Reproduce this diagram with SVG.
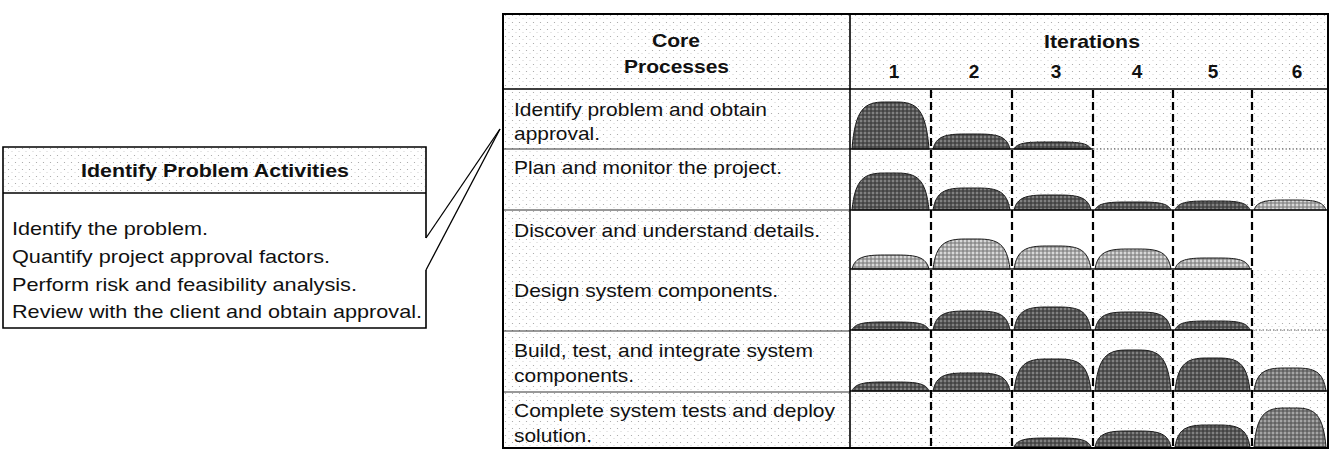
<svg xmlns="http://www.w3.org/2000/svg" width="1335" height="450" viewBox="0 0 1335 450">
  <defs>
    <!-- light printed tint used as cell background -->
    <pattern id="tint" width="7" height="7" patternUnits="userSpaceOnUse">
      <rect width="7" height="7" fill="#ffffff"/>
      <circle cx="1.5" cy="1.5" r="0.6" fill="#a0a0a0"/>
      <circle cx="5" cy="4.6" r="0.5" fill="#c0c0c0"/>
    </pattern>
    <!-- halftone screens for the effort humps -->
    <pattern id="screenDark" width="4" height="4" patternUnits="userSpaceOnUse">
      <rect width="4" height="4" fill="#555555"/>
      <circle cx="1" cy="1" r="0.7" fill="#d0d0d0"/>
      <rect x="2.5" y="2.5" width="1" height="1" fill="#111111"/>
    </pattern>
    <pattern id="screenMid" width="4" height="4" patternUnits="userSpaceOnUse">
      <rect width="4" height="4" fill="#777777"/>
      <circle cx="1" cy="1" r="0.8" fill="#e0e0e0"/>
      <rect x="2.5" y="2.5" width="1" height="1" fill="#222222"/>
    </pattern>
    <pattern id="screenLight" width="4" height="4" patternUnits="userSpaceOnUse">
      <rect width="4" height="4" fill="#a5a5a5"/>
      <circle cx="1" cy="1" r="0.9" fill="#f0f0f0"/>
      <rect x="2.5" y="2.5" width="1" height="1" fill="#444444"/>
    </pattern>
    <style>
      .lbl { font-family: "Liberation Sans", Arial, Helvetica, sans-serif; font-size: 19px; fill: #111; }
      .bold { font-weight: bold; }
      .frame { fill: none; stroke: #000; stroke-width: 2; }
      .rule { stroke: #000; stroke-width: 1.6; fill: none; }
      .thin { stroke: #333; stroke-width: 1; fill: none; }
      .dotted { stroke: #555; stroke-width: 1; stroke-dasharray: 1.5 2; fill: none; }
      .iter { stroke: #000; stroke-width: 2.2; stroke-dasharray: 8 4; fill: none; }
      .hump { stroke: #1a1a1a; stroke-width: 1; }
      .dark { fill: url(#screenDark); }
      .mid { fill: url(#screenMid); }
      .light { fill: url(#screenLight); }
      .base { stroke: #111; stroke-width: 1.5; fill: none; }
      .callout { stroke: #000; stroke-width: 1.3; fill: none; }
    </style>
  </defs>

  <rect width="1335" height="450" fill="#ffffff"/>

  <!-- Activities detail box -->
  <g id="activities-box">
    <rect x="3" y="147" width="423" height="46" fill="url(#tint)"/>
    <path class="rule" d="M426 238 V147 H3 V328 H426 V270"/>
    <line class="rule" x1="3" y1="193" x2="426" y2="193"/>
    <text class="lbl bold" x="81" y="177" textLength="268" lengthAdjust="spacingAndGlyphs">Identify Problem Activities</text>
    <text class="lbl" x="12" y="235" font-size="19.5" textLength="196" lengthAdjust="spacingAndGlyphs">Identify the problem.</text>
    <text class="lbl" x="12" y="263" font-size="19.5" textLength="318" lengthAdjust="spacingAndGlyphs">Quantify project approval factors.</text>
    <text class="lbl" x="12" y="291" font-size="19.5" textLength="345" lengthAdjust="spacingAndGlyphs">Perform risk and feasibility analysis.</text>
    <text class="lbl" x="12" y="318" font-size="19.5" textLength="410" lengthAdjust="spacingAndGlyphs">Review with the client and obtain approval.</text>
  </g>

  <!-- Core processes by iteration table -->
  <g id="process-table">
    <!-- background tints -->
    <rect x="503" y="14" width="825" height="196" fill="url(#tint)"/>
    <rect x="503" y="210" width="347" height="59" fill="url(#tint)"/>
    <rect x="503" y="269" width="825" height="179" fill="url(#tint)"/>

    <!-- header -->
    <g id="header">
      <text class="lbl bold" x="652" y="47" textLength="48" lengthAdjust="spacingAndGlyphs">Core</text>
      <text class="lbl bold" x="624" y="73" textLength="105" lengthAdjust="spacingAndGlyphs">Processes</text>
      <text class="lbl bold" x="1044" y="48" textLength="96" lengthAdjust="spacingAndGlyphs">Iterations</text>
      <g class="lbl bold" text-anchor="middle">
        <text x="894" y="78">1</text>
        <text x="974" y="78">2</text>
        <text x="1056" y="78">3</text>
        <text x="1137" y="78">4</text>
        <text x="1213" y="78">5</text>
        <text x="1297" y="78">6</text>
      </g>
    </g>

    <!-- process labels -->
    <g id="row-1"><text class="lbl" x="514" y="116" textLength="253" lengthAdjust="spacingAndGlyphs">Identify problem and obtain</text>
      <text class="lbl" x="514" y="140" textLength="86" lengthAdjust="spacingAndGlyphs">approval.</text></g>
    <g id="row-2"><text class="lbl" x="514" y="174" textLength="268" lengthAdjust="spacingAndGlyphs">Plan and monitor the project.</text></g>
    <g id="row-3"><text class="lbl" x="514" y="237" textLength="306" lengthAdjust="spacingAndGlyphs">Discover and understand details.</text></g>
    <g id="row-4"><text class="lbl" x="514" y="297" textLength="264" lengthAdjust="spacingAndGlyphs">Design system components.</text></g>
    <g id="row-5"><text class="lbl" x="514" y="357" textLength="299" lengthAdjust="spacingAndGlyphs">Build, test, and integrate system</text>
      <text class="lbl" x="514" y="382" textLength="120" lengthAdjust="spacingAndGlyphs">components.</text></g>
    <g id="row-6"><text class="lbl" x="514" y="417" textLength="321" lengthAdjust="spacingAndGlyphs">Complete system tests and deploy</text>
      <text class="lbl" x="514" y="442" textLength="78" lengthAdjust="spacingAndGlyphs">solution.</text></g>

    <!-- effort per iteration -->
    <g id="effort">
      <path class="hump dark" d="M852 149 C855.1 109 864.3 102 884.3 102 L896.7 102 C916.7 102 925.9 109 929 149Z"/>
      <path class="hump dark" d="M933 149 C936.1 136.3 945.3 134 965.3 134 L977.7 134 C997.7 134 1006.9 136.3 1010 149Z"/>
      <path class="hump dark" d="M1014 149 C1017.1 143 1026.3 142 1046.3 142 L1058.7 142 C1078.7 142 1087.9 143 1091 149Z"/>

      <path class="hump dark" d="M852 210 C855.1 178.6 864.3 173 884.3 173 L896.7 173 C916.7 173 925.9 178.6 929 210Z"/>
      <path class="hump dark" d="M933 210 C936.1 191.3 945.3 188 965.3 188 L977.7 188 C997.7 188 1006.9 191.3 1010 210Z"/>
      <path class="hump dark" d="M1014 210 C1017.1 197.3 1026.3 195 1046.3 195 L1058.7 195 C1078.7 195 1087.9 197.3 1091 210Z"/>
      <path class="hump dark" d="M1095 210 C1098 203.2 1107.2 202 1126.9 202 L1139.1 202 C1158.8 202 1168 203.2 1171 210Z"/>
      <path class="hump dark" d="M1175 210 C1178 202.4 1187 201 1206.5 201 L1218.5 201 C1238 201 1247 202.4 1250 210Z"/>
      <path class="hump light" d="M1254 210 C1256.9 201.5 1265.5 200 1284.2 200 L1295.8 200 C1314.5 200 1323.1 201.5 1326 210Z"/>

      <path class="hump light" d="M852 269 C855.1 257.1 864.3 255 884.3 255 L896.7 255 C916.7 255 925.9 257.1 929 269Z"/>
      <path class="hump light" d="M933 269 C936.1 243.5 945.3 239 965.3 239 L977.7 239 C997.7 239 1006.9 243.5 1010 269Z"/>
      <path class="hump light" d="M1014 269 C1017.1 249.5 1026.3 246 1046.3 246 L1058.7 246 C1078.7 246 1087.9 249.5 1091 269Z"/>
      <path class="hump light" d="M1095 269 C1098 252 1107.2 249 1126.9 249 L1139.1 249 C1158.8 249 1168 252 1171 269Z"/>
      <path class="hump light" d="M1175 269 C1178 259.7 1187 258 1206.5 258 L1218.5 258 C1238 258 1247 259.7 1250 269Z"/>

      <path class="hump dark" d="M852 330 C855.1 323.2 864.3 322 884.3 322 L896.7 322 C916.7 322 925.9 323.2 929 330Z"/>
      <path class="hump dark" d="M933 330 C936.1 313.9 945.3 311 965.3 311 L977.7 311 C997.7 311 1006.9 313.9 1010 330Z"/>
      <path class="hump dark" d="M1014 330 C1017.1 310.5 1026.3 307 1046.3 307 L1058.7 307 C1078.7 307 1087.9 310.5 1091 330Z"/>
      <path class="hump dark" d="M1095 330 C1098 314.7 1107.2 312 1126.9 312 L1139.1 312 C1158.8 312 1168 314.7 1171 330Z"/>
      <path class="hump dark" d="M1175 330 C1178 322.4 1187 321 1206.5 321 L1218.5 321 C1238 321 1247 322.4 1250 330Z"/>

      <path class="hump dark" d="M852 391 C855.1 383.4 864.3 382 884.3 382 L896.7 382 C916.7 382 925.9 383.4 929 391Z"/>
      <path class="hump dark" d="M933 391 C936.1 375.7 945.3 373 965.3 373 L977.7 373 C997.7 373 1006.9 375.7 1010 391Z"/>
      <path class="hump dark" d="M1014 391 C1017.1 363.8 1026.3 359 1046.3 359 L1058.7 359 C1078.7 359 1087.9 363.8 1091 391Z"/>
      <path class="hump dark" d="M1095 391 C1098 356.2 1107.2 350 1126.9 350 L1139.1 350 C1158.8 350 1168 356.2 1171 391Z"/>
      <path class="hump dark" d="M1175 391 C1178 363 1187 358 1206.5 358 L1218.5 358 C1238 358 1247 363 1250 391Z"/>
      <path class="hump mid" d="M1254 391 C1256.9 371.5 1265.5 368 1284.2 368 L1295.8 368 C1314.5 368 1323.1 371.5 1326 391Z"/>

      <path class="hump dark" d="M1014 447 C1017.1 439.4 1026.3 438 1046.3 438 L1058.7 438 C1078.7 438 1087.9 439.4 1091 447Z"/>
      <path class="hump dark" d="M1095 447 C1098 433.4 1107.2 431 1126.9 431 L1139.1 431 C1158.8 431 1168 433.4 1171 447Z"/>
      <path class="hump dark" d="M1175 447 C1178 428.3 1187 425 1206.5 425 L1218.5 425 C1238 425 1247 428.3 1250 447Z"/>
      <path class="hump mid" d="M1254 447 C1256.9 413.9 1265.5 408 1284.2 408 L1295.8 408 C1314.5 408 1323.1 413.9 1326 447Z"/>
    </g>

    <!-- row separators -->
    <g id="row-rules">
      <line class="thin" x1="503" y1="149" x2="850" y2="149"/>
      <line class="base" x1="850" y1="149" x2="1093" y2="149"/>
      <line class="dotted" x1="1093" y1="149" x2="1328" y2="149"/>
      <line class="thin" x1="503" y1="210" x2="850" y2="210"/>
      <line class="base" x1="850" y1="210" x2="1328" y2="210"/>
      <line class="base" x1="850" y1="269" x2="1252" y2="269"/>
      <line class="thin" x1="503" y1="331" x2="850" y2="331"/>
      <line class="base" x1="850" y1="330" x2="1252" y2="330"/>
      <line class="dotted" x1="1252" y1="330" x2="1328" y2="330"/>
      <line class="thin" x1="503" y1="392" x2="850" y2="392"/>
      <line class="base" x1="850" y1="391" x2="1328" y2="391"/>
    </g>

    <!-- iteration boundaries -->
    <g id="iteration-rules">
      <line class="iter" x1="931" y1="90" x2="931" y2="448"/>
      <line class="iter" x1="1012" y1="90" x2="1012" y2="448"/>
      <line class="iter" x1="1093" y1="90" x2="1093" y2="448"/>
      <line class="iter" x1="1173" y1="90" x2="1173" y2="448"/>
      <line class="iter" x1="1252" y1="90" x2="1252" y2="448"/>
    </g>

    <!-- outer frame, header rule and column divider -->
    <rect class="frame" x="503" y="14" width="825" height="434"/>
    <line class="rule" x1="503" y1="89" x2="1328" y2="89"/>
    <line class="rule" x1="850" y1="14" x2="850" y2="448"/>
  </g>

  <!-- callout from the detail box to the first process row -->
  <g id="connectors">
    <line class="callout" x1="426" y1="238" x2="500" y2="129"/>
    <line class="callout" x1="426" y1="270" x2="500" y2="129"/>
  </g>
</svg>
